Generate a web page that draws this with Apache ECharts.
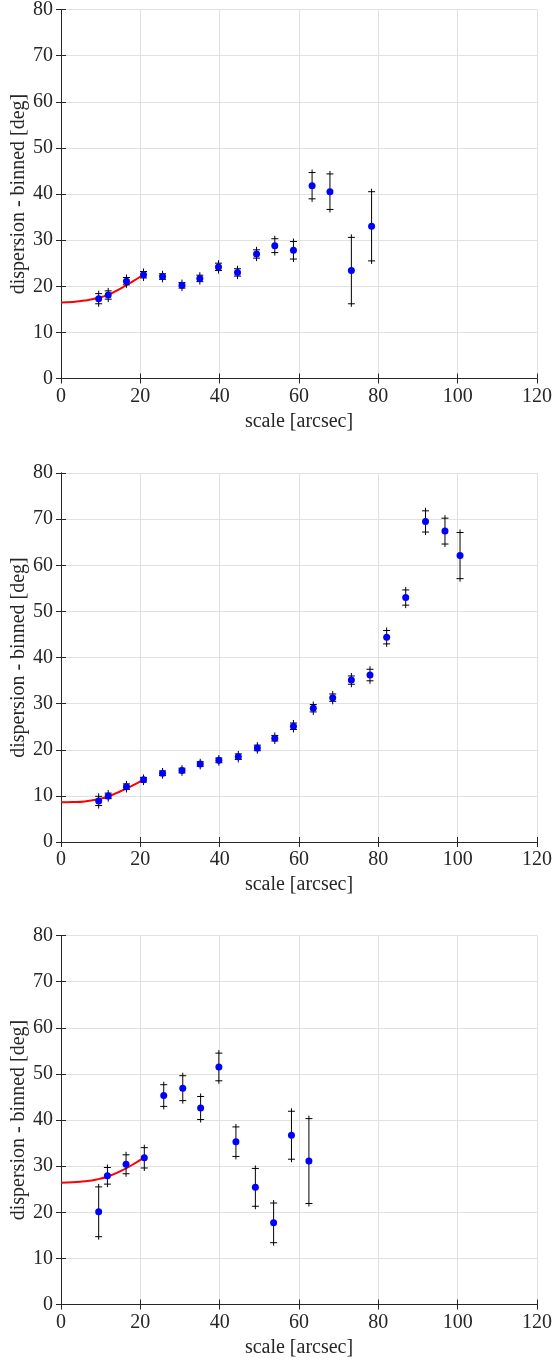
<!DOCTYPE html>
<html>
<head>
<meta charset="utf-8">
<script src="https://cdn.jsdelivr.net/npm/echarts@6/dist/echarts.min.js"></script>
<style>
  html, body { margin:0; padding:0; background:#fff; }
  #chart { width:554px; height:1360px; }
</style>
</head>
<body>
<div id="chart"></div>
<script>
// ---------- data ----------
const xTicks = [0, 20, 40, 60, 80, 100, 120];
const yTicks = [0, 10, 20, 30, 40, 50, 60, 70, 80];

// Panel 1
const scale1 = [9.5, 11.9, 16.5, 20.8, 25.6, 30.5, 35.0, 39.7, 44.5, 49.3, 53.9, 58.6, 63.3, 67.8, 73.2, 78.3];
const disp1  = [17.3, 18.1, 21.1, 22.5, 22.1, 20.2, 21.7, 24.2, 23.0, 27.0, 28.8, 27.8, 41.8, 40.5, 23.4, 33.0];
const err1   = [1.1, 0.9, 0.8, 0.7, 0.6, 0.6, 0.7, 0.8, 0.8, 0.9, 1.5, 1.9, 2.85, 3.85, 7.2, 7.5];
const fitX1  = [0, 3, 6, 9, 12, 15, 18, 20.7];
const fitY1  = [16.5, 16.6, 16.9, 17.4, 18.2, 19.5, 21.0, 22.5];

// Panel 2
const scale2 = [9.5, 11.9, 16.5, 20.8, 25.6, 30.5, 35.1, 39.8, 44.7, 49.5, 53.9, 58.6, 63.6, 68.5, 73.2, 77.9, 82.1, 86.9, 91.9, 96.8, 100.6];
const disp2  = [8.9, 10.0, 12.0, 13.5, 14.9, 15.5, 16.9, 17.7, 18.5, 20.4, 22.5, 25.1, 29.0, 31.3, 35.1, 36.2, 44.4, 53.0, 69.5, 67.4, 62.1];
const err2   = [1.0, 0.6, 0.6, 0.5, 0.5, 0.5, 0.5, 0.5, 0.6, 0.6, 0.6, 0.7, 0.8, 0.8, 0.9, 1.25, 1.45, 1.65, 2.3, 2.8, 5.0];
const fitX2  = [0, 3, 6, 9, 12, 15, 18, 20.8];
const fitY2  = [8.6, 8.65, 8.8, 9.2, 9.9, 11.0, 12.2, 13.5];

// Panel 3
const scale3 = [9.5, 11.7, 16.4, 21.0, 25.9, 30.7, 35.2, 39.8, 44.1, 49.0, 53.6, 58.1, 62.5];
const disp3  = [20.1, 27.9, 30.4, 31.8, 45.3, 46.9, 42.6, 51.5, 35.3, 25.4, 17.7, 36.7, 31.1];
const err3   = [5.4, 1.8, 2.05, 2.2, 2.35, 2.7, 2.5, 3.0, 3.2, 4.1, 4.3, 5.2, 9.2];
const fitX3  = [0, 3, 6, 9, 12, 15, 18, 20.8];
const fitY3  = [26.4, 26.5, 26.7, 27.1, 27.8, 28.9, 30.3, 31.8];

const xLabel = 'scale [arcsec]';
const yLabel = 'dispersion - binned [deg]';

// ---------- chart ----------
const FONT = '"Liberation Serif", "DejaVu Serif", serif';
const TXT = '#262626';
const panels = [
  {x: scale1, y: disp1, e: err1, fx: fitX1, fy: fitY1, top: 9.5},
  {x: scale2, y: disp2, e: err2, fx: fitX2, fy: fitY2, top: 473},
  {x: scale3, y: disp3, e: err3, fx: fitX3, fy: fitY3, top: 935.5}
];

function renderErr(params, api) {
  const x = api.value(0), y = api.value(1), e = api.value(2);
  const t = api.coord([x, y + e]);
  const b = api.coord([x, y - e]);
  const ext = 3, cap = 3.5;
  const style = {stroke: '#000', lineWidth: 1};
  return {type: 'group', children: [
    {type: 'line', shape: {x1: t[0], y1: t[1] - ext, x2: b[0], y2: b[1] + ext}, style},
    {type: 'line', shape: {x1: t[0] - cap, y1: t[1], x2: t[0] + cap, y2: t[1]}, style},
    {type: 'line', shape: {x1: b[0] - cap, y1: b[1], x2: b[0] + cap, y2: b[1]}, style}
  ]};
}

const grid = [], xAxis = [], yAxis = [], series = [];
panels.forEach((p, i) => {
  grid.push({left: 61, width: 476, top: p.top, height: 369, containLabel: false, outerBoundsMode: 'none'});
  const axLine = {show: true, lineStyle: {color: TXT, width: 1}};
  const tick = {show: true, inside: true, length: 5, lineStyle: {color: TXT}};
  xAxis.push({
    type: 'value', gridIndex: i, min: xTicks[0], max: xTicks[xTicks.length - 1], interval: xTicks[1] - xTicks[0],
    position: 'bottom', axisLine: axLine, axisTick: tick,
    axisLabel: {fontFamily: FONT, fontSize: 20, color: TXT, margin: 8},
    splitLine: {show: true, lineStyle: {color: '#e1e1e1', width: 1}},
    name: xLabel, nameLocation: 'middle', nameGap: 33,
    nameTextStyle: {fontFamily: FONT, fontSize: 20, color: TXT}
  });
  xAxis.push({
    type: 'value', gridIndex: i, min: xTicks[0], max: xTicks[xTicks.length - 1], interval: xTicks[1] - xTicks[0],
    position: 'top', axisLine: axLine, axisTick: tick, axisLabel: {show: false}, splitLine: {show: false}
  });
  yAxis.push({
    type: 'value', gridIndex: i, min: yTicks[0], max: yTicks[yTicks.length - 1], interval: yTicks[1] - yTicks[0],
    position: 'left', axisLine: axLine, axisTick: tick,
    axisLabel: {fontFamily: FONT, fontSize: 20, color: TXT, margin: 8},
    splitLine: {show: true, lineStyle: {color: '#e1e1e1', width: 1}},
    name: yLabel, nameLocation: 'middle', nameGap: 32, nameRotate: 90, nameMoveOverlap: false,
    nameTextStyle: {fontFamily: FONT, fontSize: 20, color: TXT}
  });
  yAxis.push({
    type: 'value', gridIndex: i, min: yTicks[0], max: yTicks[yTicks.length - 1], interval: yTicks[1] - yTicks[0],
    position: 'right', axisLine: axLine, axisTick: tick, axisLabel: {show: false}, splitLine: {show: false}
  });
  series.push({
    type: 'line', xAxisIndex: 2 * i, yAxisIndex: 2 * i, smooth: true, symbol: 'none',
    lineStyle: {color: '#ff0000', width: 2}, z: 3,
    data: p.fx.map((v, k) => [v, p.fy[k]])
  });
  series.push({
    type: 'custom', xAxisIndex: 2 * i, yAxisIndex: 2 * i, renderItem: renderErr,
    encode: {x: 0, y: 1}, z: 4,
    data: p.x.map((v, k) => [v, p.y[k], p.e[k]])
  });
  series.push({
    type: 'scatter', xAxisIndex: 2 * i, yAxisIndex: 2 * i, symbol: 'circle', symbolSize: 7,
    itemStyle: {color: '#0000ff', opacity: 1}, z: 5,
    data: p.x.map((v, k) => [v, p.y[k]])
  });
});

const chart = echarts.init(document.getElementById('chart'), null, {renderer: 'canvas'});
chart.setOption({
  animation: false,
  backgroundColor: '#ffffff',
  grid, xAxis, yAxis, series
});
</script>
</body>
</html>
